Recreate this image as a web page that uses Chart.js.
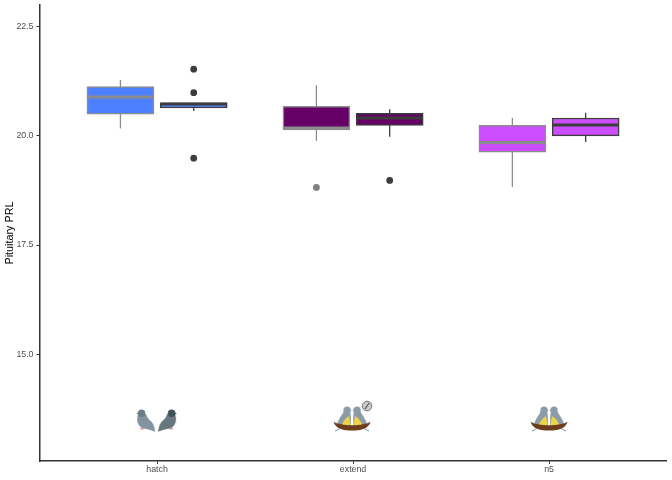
<!DOCTYPE html>
<html>
<head>
<meta charset="utf-8">
<title>Pituitary PRL</title>
<script src="https://cdn.jsdelivr.net/npm/chart.js@4/dist/chart.umd.min.js"></script>
<style>
  html, body { margin: 0; padding: 0; background: #fff; }
  canvas { display: block; }
</style>
</head>
<body>
<canvas id="chart" width="672" height="480"></canvas>
<script>
const categories = ["hatch", "extend", "n5"];
const yTickValues = [15, 17.5, 20, 22.5];
const fills = ["#4d80ff", "#660066", "#cc4dff"];

// left box in each category
const leftLow = [20.17, 19.89, 18.83];
const leftQ1 = [20.5, 20.14, 19.63];
const leftMedian = [20.89, 20.18, 19.85];
const leftQ3 = [21.13, 20.68, 20.24];
const leftHigh = [21.28, 21.16, 20.41];
const leftOutliers = [[], [18.82], []];

// right box in each category
const rightLow = [20.57, 19.98, 19.86];
const rightQ1 = [20.64, 20.24, 20.0];
const rightMedian = [20.73, 20.41, 20.25];
const rightQ3 = [20.76, 20.52, 20.41];
const rightHigh = [20.76, 20.61, 20.53];
const rightOutliers = [[21.53, 20.99, 19.49], [18.98], []];

const iconRow = [13.49, 13.49, 13.49];

const dodge = 0.187;
const halfBox = 0.17;
const grey = "#8c8c8c";
const dark = "#3d3d3d";

function newIcon(draw) {
  const c = document.createElement("canvas");
  c.width = 56;
  c.height = 44;
  const g = c.getContext("2d");
  g.translate(28, 22);
  draw(g);
  return c;
}

function pigeon(g, body, head) {
  g.fillStyle = "#d9a0a8";
  g.fillRect(-16.5, 8, 4, 1.5);
  g.fillStyle = body;
  g.beginPath();
  g.moveTo(-18.5, -6);
  g.bezierCurveTo(-20, -1, -20, 4, -15.5, 7.5);
  g.bezierCurveTo(-12, 9, -7, 9.5, -1.5, 11.7);
  g.bezierCurveTo(-2, 8, -2.5, 5, -4.5, 2.5);
  g.bezierCurveTo(-6.5, 0, -9.5, -1.5, -10.5, -6);
  g.closePath();
  g.fill();
  g.fillStyle = head;
  g.beginPath();
  g.arc(-15, -6.7, 3.7, 0, Math.PI * 2);
  g.fill();
  g.beginPath();
  g.moveTo(-18, -8);
  g.lineTo(-20.2, -6.3);
  g.lineTo(-18, -5.5);
  g.closePath();
  g.fill();
}

function pigeonsIcon(g) {
  g.save();
  g.translate(-0.5, 0);
  pigeon(g, "#84939d", "#6d7d87");
  g.scale(-1, 1);
  pigeon(g, "#67767f", "#3f4e57");
  g.restore();
}

// drawn as the left bird, the right one is mirrored
function nestBird(g) {
  g.fillStyle = "#8b9ba7";
  g.beginPath();
  g.moveTo(-8, -10);
  g.bezierCurveTo(-9, -5, -14, -2, -15, 5);
  g.lineTo(-1, 6);
  g.bezierCurveTo(-1, 0, -1, -5, -2, -9);
  g.closePath();
  g.fill();
  g.beginPath();
  g.arc(-5, -10, 3.6, 0, Math.PI * 2);
  g.fill();
  g.beginPath();
  g.moveTo(-2.5, -11.5);
  g.lineTo(-0.5, -9.5);
  g.lineTo(-2.5, -8.5);
  g.closePath();
  g.fill();
  g.fillStyle = "#ecd34a";
  g.beginPath();
  g.moveTo(-3.5, -4);
  g.bezierCurveTo(-7, -1, -10, 2, -10, 6);
  g.lineTo(-1.5, 6);
  g.bezierCurveTo(-1.5, 2, -2, -1, -3.5, -4);
  g.closePath();
  g.fill();
}

function nestIcon(g) {
  nestBird(g);
  g.save();
  g.scale(-1, 1);
  nestBird(g);
  g.restore();
  g.strokeStyle = "#7f8f9a";
  g.lineWidth = 1;
  g.beginPath();
  g.moveTo(-17, 11);
  g.lineTo(-11, 8);
  g.moveTo(17, 11);
  g.lineTo(11, 8);
  g.stroke();
  g.fillStyle = "#6e3d1e";
  g.beginPath();
  g.moveTo(-18.5, 1.5);
  g.bezierCurveTo(-12, 6.5, 12, 6.5, 18.5, 1.5);
  g.bezierCurveTo(17, 9, 8, 10.5, 0, 10.5);
  g.bezierCurveTo(-8, 10.5, -17, 9, -18.5, 1.5);
  g.fill();
}

function clockNestIcon(g) {
  g.save();
  g.translate(-1, 0);
  nestIcon(g);
  g.restore();
  g.fillStyle = "#c9c9c9";
  g.strokeStyle = "#777";
  g.lineWidth = 1;
  g.beginPath();
  g.arc(14, -14, 4.8, 0, Math.PI * 2);
  g.fill();
  g.stroke();
  g.strokeStyle = "#333";
  g.beginPath();
  g.moveTo(14, -14);
  g.lineTo(16, -17);
  g.moveTo(14, -14);
  g.lineTo(12, -11);
  g.stroke();
}

const icons = [newIcon(pigeonsIcon), newIcon(clockNestIcon), newIcon(nestIcon)];

function boxData(q1, q3, shift) {
  return categories.map(function (_, i) {
    return { x: i + shift, y: [q1[i], q3[i]] };
  });
}

function whiskerData(low, high, shift) {
  const pts = [];
  categories.forEach(function (_, i) {
    pts.push({ x: i + shift, y: low[i] }, { x: i + shift, y: high[i] }, { x: i + shift, y: null });
  });
  return pts;
}

function medianData(median, shift) {
  const pts = [];
  categories.forEach(function (_, i) {
    pts.push({ x: i + shift - halfBox, y: median[i] }, { x: i + shift + halfBox, y: median[i] }, { x: i + shift, y: null });
  });
  return pts;
}

function outlierData(outliers, shift) {
  const pts = [];
  outliers.forEach(function (list, i) {
    list.forEach(function (v) {
      pts.push({ x: i + shift, y: v });
    });
  });
  return pts;
}

function lineSet(label, data, color, width, order) {
  return {
    type: "scatter", label: label, data: data, showLine: true, spanGaps: false,
    borderColor: color, borderWidth: width, pointRadius: 0, order: order
  };
}

function boxSet(label, data, color) {
  return {
    type: "bar", label: label, data: data, backgroundColor: fills, borderColor: color,
    borderWidth: 1.5, borderSkipped: false, barThickness: 67, grouped: false, order: 4
  };
}

function dotSet(label, data, color) {
  return {
    type: "scatter", label: label, data: data, pointRadius: 3.4, pointBorderWidth: 0,
    pointBackgroundColor: color, order: 1
  };
}

new Chart(document.getElementById("chart").getContext("2d"), {
  type: "bar",
  data: {
    datasets: [
      lineSet("left whiskers", whiskerData(leftLow, leftHigh, -dodge), grey, 1.3, 5),
      lineSet("right whiskers", whiskerData(rightLow, rightHigh, dodge), dark, 1.3, 5),
      boxSet("left boxes", boxData(leftQ1, leftQ3, -dodge), grey),
      boxSet("right boxes", boxData(rightQ1, rightQ3, dodge), dark),
      lineSet("left medians", medianData(leftMedian, -dodge), grey, 3, 2),
      lineSet("right medians", medianData(rightMedian, dodge), dark, 3, 2),
      dotSet("left outliers", outlierData(leftOutliers, -dodge), "#7f7f7f"),
      dotSet("right outliers", outlierData(rightOutliers, dodge), dark),
      {
        type: "scatter", label: "stage icons",
        data: categories.map(function (_, i) { return { x: i, y: iconRow[i] }; }),
        pointStyle: icons, pointRadius: 10, order: 1
      }
    ]
  },
  options: {
    responsive: false,
    animation: false,
    layout: { autoPadding: false, padding: { top: 5, right: 5.4, left: 0, bottom: 0 } },
    plugins: { legend: { display: false }, tooltip: { enabled: false } },
    scales: {
      x: {
        type: "linear",
        offset: false,
        min: -0.6,
        max: 2.6,
        afterBuildTicks: function (scale) {
          scale.ticks = categories.map(function (_, i) { return { value: i }; });
        },
        afterFit: function (scale) {
          scale.height = 19;
          scale.paddingLeft = 0;
          scale.paddingRight = 0;
        },
        grid: { offset: false, drawOnChartArea: false, tickLength: 3, tickColor: "#333", tickWidth: 1 },
        border: { color: "#333", width: 1.5 },
        ticks: {
          autoSkip: false,
          maxRotation: 0,
          padding: 0,
          color: "#4d4d4d",
          font: { family: "Liberation Sans", size: 8.8 },
          callback: function (v) { return categories[v]; }
        }
      },
      y: {
        type: "linear",
        min: 12.55,
        max: 23,
        afterBuildTicks: function (scale) {
          scale.ticks = yTickValues.map(function (v) { return { value: v }; });
        },
        afterFit: function (scale) {
          scale.width = 39.5;
          scale.paddingTop = 0;
          scale.paddingBottom = 0;
        },
        grid: { drawOnChartArea: false, tickLength: 3, tickColor: "#333", tickWidth: 1 },
        border: { color: "#333", width: 1.5 },
        ticks: {
          padding: 3,
          color: "#4d4d4d",
          font: { family: "Liberation Sans", size: 8.8 },
          callback: function (v) { return v.toFixed(1); }
        },
        title: {
          display: true,
          text: "Pituitary PRL",
          color: "#000",
          padding: { top: 4, bottom: 0 },
          font: { family: "Liberation Sans", size: 10.8 }
        }
      }
    }
  }
});
</script>
</body>
</html>
